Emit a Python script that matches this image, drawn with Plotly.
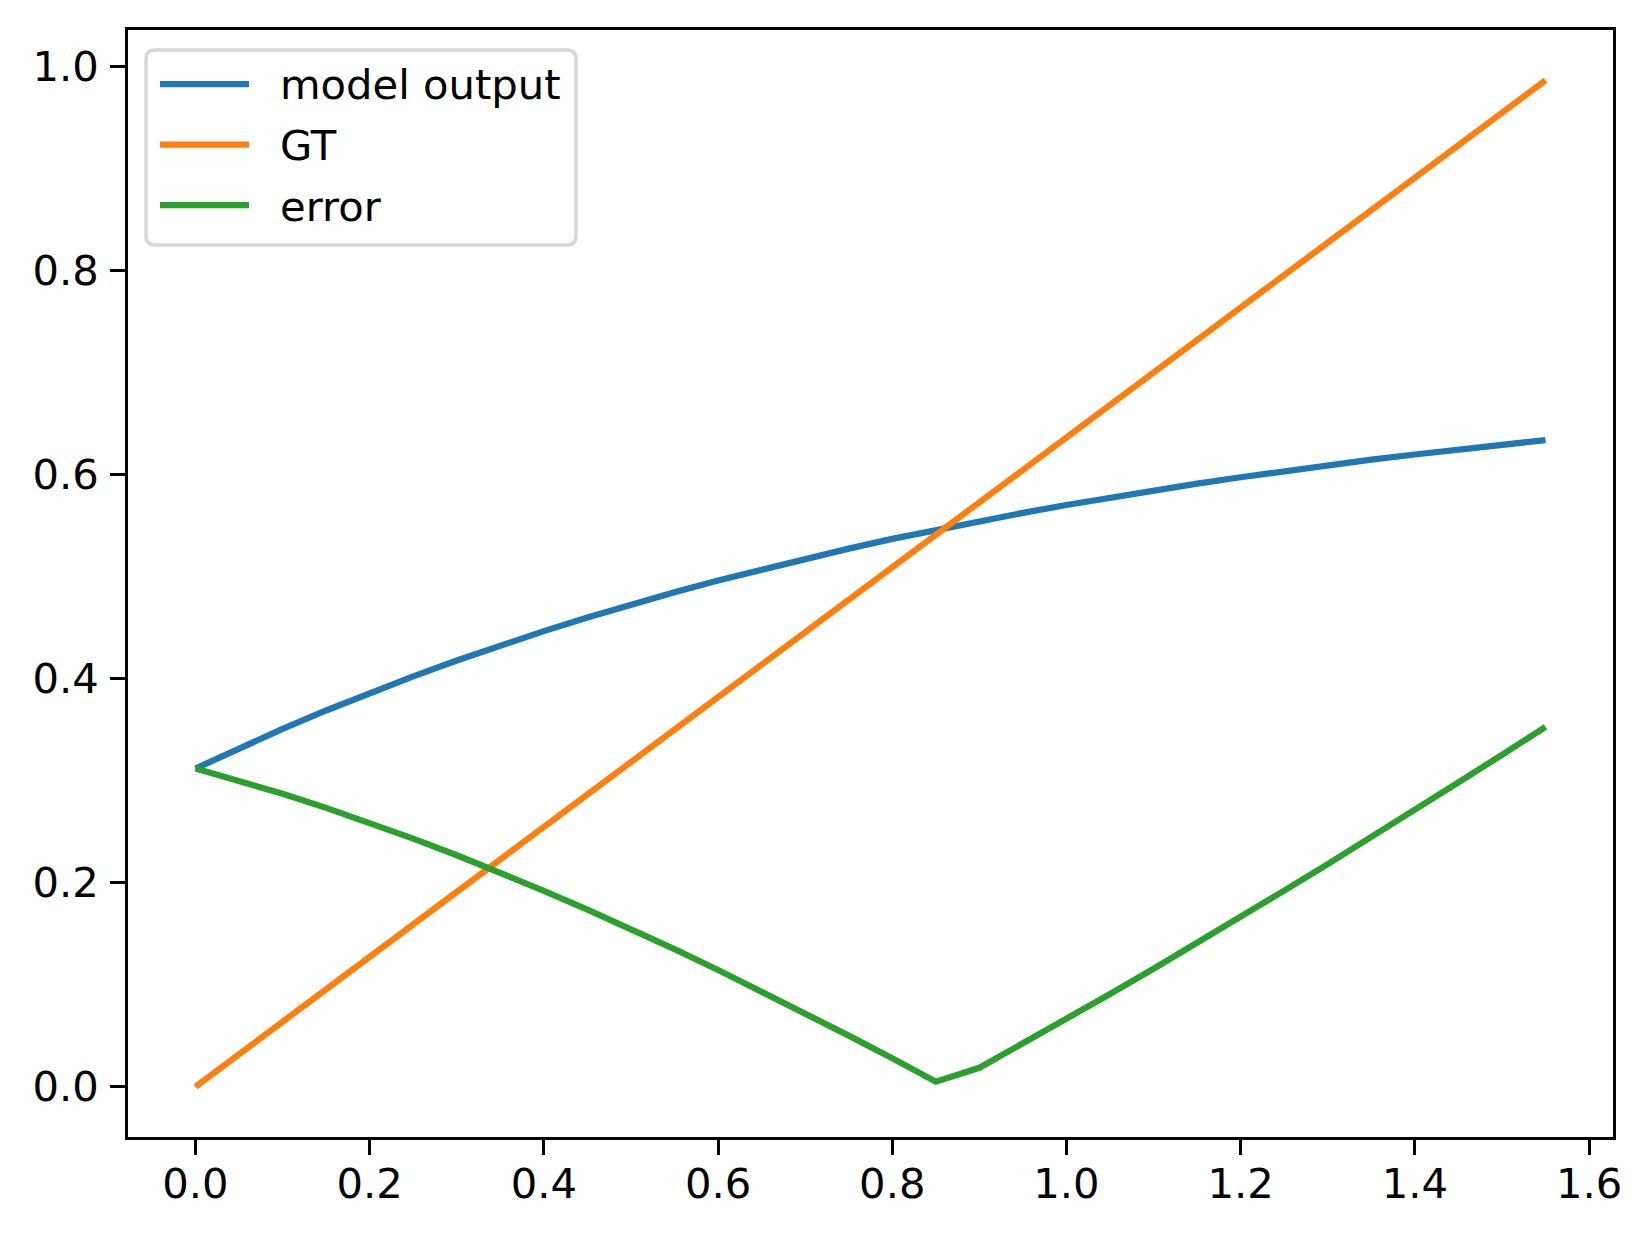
import plotly.graph_objects as go

# ---------------- data ----------------
x_values = [0.00, 0.05, 0.10, 0.15, 0.20, 0.25, 0.30, 0.35, 0.40, 0.45,
            0.50, 0.55, 0.60, 0.65, 0.70, 0.75, 0.80, 0.85, 0.90, 0.95,
            1.00, 1.05, 1.10, 1.15, 1.20, 1.25, 1.30, 1.35, 1.40, 1.45,
            1.50, 1.55]

model_output = [0.3120, 0.3319, 0.3509, 0.3689, 0.3861, 0.4024, 0.4179, 0.4327,
                0.4467, 0.4601, 0.4728, 0.4849, 0.4964, 0.5073, 0.5177, 0.5276,
                0.5371, 0.5460, 0.5545, 0.5626, 0.5704, 0.5777, 0.5847, 0.5913,
                0.5976, 0.6036, 0.6093, 0.6148, 0.6199, 0.6248, 0.6295, 0.6340]

gt_values = [0.0000, 0.0318, 0.0637, 0.0955, 0.1273, 0.1592, 0.1910, 0.2228,
             0.2546, 0.2865, 0.3183, 0.3501, 0.3820, 0.4138, 0.4456, 0.4775,
             0.5093, 0.5411, 0.5730, 0.6048, 0.6366, 0.6685, 0.7003, 0.7321,
             0.7639, 0.7958, 0.8276, 0.8594, 0.8913, 0.9231, 0.9549, 0.9868]

error_values = [0.3120, 0.3001, 0.2872, 0.2734, 0.2588, 0.2432, 0.2269, 0.2099,
                0.1921, 0.1736, 0.1545, 0.1348, 0.1144, 0.0935, 0.0721, 0.0501,
                0.0278, 0.0049, 0.0185, 0.0422, 0.0662, 0.0908, 0.1156, 0.1408,
                0.1663, 0.1922, 0.2183, 0.2446, 0.2714, 0.2983, 0.3254, 0.3528]

series_names = ["model output", "GT", "error"]
series_colors = ["#1f77b4", "#ff7f0e", "#2ca02c"]

x_ticks = [0.0, 0.2, 0.4, 0.6, 0.8, 1.0, 1.2, 1.4, 1.6]
y_ticks = [0.0, 0.2, 0.4, 0.6, 0.8, 1.0]

# ---------------- layout constants ----------------
W, H = 1652, 1237
L, R, T, B = 128, 39, 30, 100
PW, PH = W - L - R, H - T - B
FONT = "DejaVu Sans"
FS = 41.7
LW = 6.25
SPINE = 3.33


def px_x(px):
    return (px - L) / PW


def px_y(py):
    return (H - B - py) / PH


fig = go.Figure()
for name, ys, col in zip(series_names, [model_output, gt_values, error_values], series_colors):
    fig.add_trace(go.Scatter(x=x_values, y=ys, mode="lines", name=name,
                             line=dict(color=col, width=LW), showlegend=False))

# x/y ranges with matplotlib-like 5% margins
xmin, xmax = min(x_values), max(x_values)
all_y = model_output + gt_values + error_values
ymin, ymax = min(all_y), max(all_y)
xpad = (xmax - xmin) * 0.05
ypad = (ymax - ymin) * 0.05

axis_common = dict(showline=True, linecolor="black", linewidth=SPINE, mirror=True,
                   ticks="outside", ticklen=14.6, tickwidth=SPINE, tickcolor="black",
                   showgrid=False, zeroline=False, tickformat=".1f",
                   tickfont=dict(family=FONT, size=FS, color="black"))

fig.update_xaxes(range=[xmin - xpad, xmax + xpad], tickvals=x_ticks,
                 ticklabelstandoff=-7, **axis_common)
fig.update_yaxes(range=[ymin - ypad, ymax + ypad], tickvals=y_ticks,
                 ticklabelstandoff=3, **axis_common)

# ---------------- custom matplotlib-style legend ----------------
bx0, bx1, by0, by1 = 146, 576, 50, 245
rad = 9
x0, x1 = px_x(bx0), px_x(bx1)
y0, y1 = px_y(by1), px_y(by0)
rx, ry = rad / PW, rad / PH
path = (f"M {x0 + rx},{y1} L {x1 - rx},{y1} Q {x1},{y1} {x1},{y1 - ry} "
        f"L {x1},{y0 + ry} Q {x1},{y0} {x1 - rx},{y0} "
        f"L {x0 + rx},{y0} Q {x0},{y0} {x0},{y0 + ry} "
        f"L {x0},{y1 - ry} Q {x0},{y1} {x0 + rx},{y1} Z")
shapes = [dict(type="path", path=path, xref="paper", yref="paper",
               fillcolor="rgba(255,255,255,0.8)",
               line=dict(color="#d6d6d6", width=SPINE), layer="above")]
annotations = []
row_y = [84.0, 144.5, 205.0]
for name, col, ry_px in zip(series_names, series_colors, row_y):
    shapes.append(dict(type="line", xref="paper", yref="paper",
                       x0=px_x(160), x1=px_x(249), y0=px_y(ry_px), y1=px_y(ry_px),
                       line=dict(color=col, width=LW), layer="above"))
    annotations.append(dict(text=name, xref="paper", yref="paper",
                            x=px_x(278), y=px_y(ry_px + 1), xanchor="left", yanchor="middle",
                            showarrow=False,
                            font=dict(family=FONT, size=FS, color="black")))

fig.update_layout(width=W, height=H, margin=dict(l=L, r=R, t=T, b=B, pad=0),
                  paper_bgcolor="white", plot_bgcolor="white",
                  font=dict(family=FONT, size=FS, color="black"),
                  shapes=shapes, annotations=annotations, showlegend=False)

fig.write_html("out.html", config={"displayModeBar": False},
               post_script="document.body.style.margin='0';")
